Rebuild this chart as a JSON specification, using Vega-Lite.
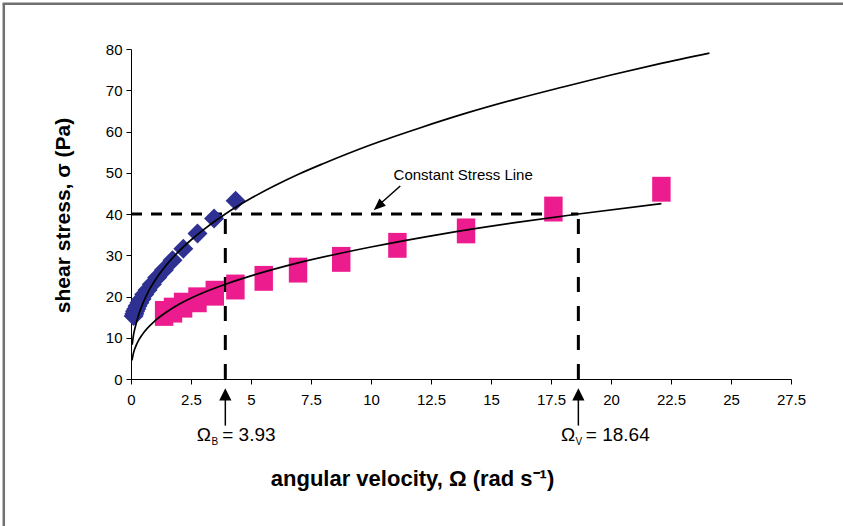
{
  "$schema": "https://vega.github.io/schema/vega-lite/v6.json",
  "width": 660,
  "height": 330,
  "autosize": {"type": "none"},
  "padding": {"left": 131, "top": 49, "right": 52, "bottom": 147},
  "background": "white",
  "config": {
    "view": {"stroke": null},
    "font": "Liberation Sans",
    "axis": {"grid": false, "domainColor": "black", "tickColor": "black", "labelColor": "black", "titleColor": "black", "labelFont": "Liberation Sans", "titleFont": "Liberation Sans"}
  },
  "data": {"values": [{}]},
  "datasets": {
    "blue": [
      {"omega": 0.11, "sigma": 15.3}, {"omega": 0.14, "sigma": 15.8}, {"omega": 0.17, "sigma": 16.4},
      {"omega": 0.22, "sigma": 17.0}, {"omega": 0.27, "sigma": 17.7}, {"omega": 0.35, "sigma": 18.5},
      {"omega": 0.44, "sigma": 19.4}, {"omega": 0.55, "sigma": 20.5}, {"omega": 0.69, "sigma": 21.6},
      {"omega": 0.87, "sigma": 23.0}, {"omega": 1.09, "sigma": 24.6}, {"omega": 1.37, "sigma": 26.4},
      {"omega": 1.73, "sigma": 28.8}, {"omega": 2.18, "sigma": 31.6}, {"omega": 2.77, "sigma": 35.3},
      {"omega": 3.46, "sigma": 38.9}, {"omega": 4.36, "sigma": 43.2}
    ],
    "pink": [
      {"omega": 1.38, "sigma": 15.9}, {"omega": 1.75, "sigma": 16.7}, {"omega": 2.17, "sigma": 17.9},
      {"omega": 2.77, "sigma": 19.2}, {"omega": 3.49, "sigma": 20.8}, {"omega": 4.35, "sigma": 22.3},
      {"omega": 5.53, "sigma": 24.4}, {"omega": 6.96, "sigma": 26.4}, {"omega": 8.76, "sigma": 29.0},
      {"omega": 11.1, "sigma": 32.4}, {"omega": 13.96, "sigma": 35.9}, {"omega": 17.6, "sigma": 41.2},
      {"omega": 22.1, "sigma": 46.0}
    ],
    "fits": [
      {"curve": "B", "omega": 0.05, "sigma": 8.3}, {"curve": "B", "omega": 0.1, "sigma": 10.5},
      {"curve": "B", "omega": 0.2, "sigma": 13.1}, {"curve": "B", "omega": 0.35, "sigma": 16.1},
      {"curve": "B", "omega": 0.5, "sigma": 18.4}, {"curve": "B", "omega": 0.75, "sigma": 21.5},
      {"curve": "B", "omega": 1, "sigma": 23.9}, {"curve": "B", "omega": 1.5, "sigma": 27.8},
      {"curve": "B", "omega": 2, "sigma": 31.0}, {"curve": "B", "omega": 2.5, "sigma": 33.7},
      {"curve": "B", "omega": 3, "sigma": 36.1}, {"curve": "B", "omega": 3.93, "sigma": 40.0},
      {"curve": "B", "omega": 5, "sigma": 43.8}, {"curve": "B", "omega": 6, "sigma": 46.9},
      {"curve": "B", "omega": 7, "sigma": 49.7}, {"curve": "B", "omega": 8, "sigma": 52.2},
      {"curve": "B", "omega": 10, "sigma": 56.8}, {"curve": "B", "omega": 12, "sigma": 60.8},
      {"curve": "B", "omega": 14, "sigma": 64.5}, {"curve": "B", "omega": 16, "sigma": 67.8},
      {"curve": "B", "omega": 18, "sigma": 70.8}, {"curve": "B", "omega": 20, "sigma": 73.7},
      {"curve": "B", "omega": 22, "sigma": 76.4}, {"curve": "B", "omega": 24.1, "sigma": 79.0},
      {"curve": "V", "omega": 0.04, "sigma": 4.5}, {"curve": "V", "omega": 0.1, "sigma": 6.2},
      {"curve": "V", "omega": 0.25, "sigma": 8.6}, {"curve": "V", "omega": 0.5, "sigma": 11.0},
      {"curve": "V", "omega": 1, "sigma": 14.1}, {"curve": "V", "omega": 1.5, "sigma": 16.3},
      {"curve": "V", "omega": 2, "sigma": 18.1}, {"curve": "V", "omega": 3, "sigma": 20.9},
      {"curve": "V", "omega": 4, "sigma": 23.1}, {"curve": "V", "omega": 5, "sigma": 25.0},
      {"curve": "V", "omega": 7, "sigma": 28.2}, {"curve": "V", "omega": 10, "sigma": 32.0},
      {"curve": "V", "omega": 13, "sigma": 35.2}, {"curve": "V", "omega": 16, "sigma": 37.9},
      {"curve": "V", "omega": 18.64, "sigma": 40.0}, {"curve": "V", "omega": 22.1, "sigma": 42.5}
    ],
    "marks": [{"omega": 3.93}, {"omega": 18.64}]
  },
  "layer": [
    {
      "mark": {"type": "rule", "stroke": "#707070", "strokeWidth": 2.5},
      "encoding": {
        "x": {"datum": -5.3, "type": "quantitative", "scale": {"domain": [0, 27.5], "nice": false, "zero": false},
          "title": "angular velocity, Ω (rad s⁻¹)",
          "axis": {"values": [0, 2.5, 5, 7.5, 10, 12.5, 15, 17.5, 20, 22.5, 25, 27.5], "format": ".4~g", "tickSize": 5, "labelFontSize": 15, "labelPadding": 8, "labelOverlap": false, "labelFlush": false,
            "titleFontSize": 22, "titleFontWeight": "bold", "titleX": 281, "titleY": 99, "titleBaseline": "middle", "titleAlign": "center"}},
        "y": {"datum": 91, "type": "quantitative", "scale": {"domain": [0, 80], "nice": false, "zero": false},
          "title": "shear stress, σ (Pa)",
          "axis": {"values": [0, 10, 20, 30, 40, 50, 60, 70, 80], "tickSize": 5, "labelFontSize": 15, "labelPadding": 4,
            "titleFontSize": 21, "titleFontWeight": "bold", "titleX": -68, "titleY": 166, "titleBaseline": "middle", "titleAlign": "center"}},
        "y2": {"datum": -40}
      }
    },
    {
      "mark": {"type": "rule", "stroke": "#707070", "strokeWidth": 2.5},
      "encoding": {
        "x": {"datum": -5.35, "type": "quantitative", "title": "angular velocity, Ω (rad s⁻¹)"},
        "x2": {"datum": 33},
        "y": {"datum": 91, "type": "quantitative", "title": "shear stress, σ (Pa)"}
      }
    },
    {
      "mark": {"type": "rule", "color": "black", "strokeWidth": 3, "strokeDash": [11, 9]},
      "encoding": {
        "x": {"datum": 0, "type": "quantitative", "title": "angular velocity, Ω (rad s⁻¹)"},
        "x2": {"datum": 18.64},
        "y": {"datum": 40, "type": "quantitative", "title": "shear stress, σ (Pa)"}
      }
    },
    {
      "data": {"name": "marks"},
      "mark": {"type": "rule", "color": "black", "strokeWidth": 3, "strokeDash": [15, 14]},
      "encoding": {
        "x": {"field": "omega", "type": "quantitative", "title": "angular velocity, Ω (rad s⁻¹)"},
        "y": {"datum": 0, "type": "quantitative", "title": "shear stress, σ (Pa)"},
        "y2": {"datum": 40}
      }
    },
    {
      "data": {"name": "blue"},
      "mark": {"type": "point", "shape": "diamond", "filled": true, "color": "#2E3192", "size": 400, "opacity": 1},
      "encoding": {
        "x": {"field": "omega", "type": "quantitative", "title": "angular velocity, Ω (rad s⁻¹)"},
        "y": {"field": "sigma", "type": "quantitative", "title": "shear stress, σ (Pa)"}
      }
    },
    {
      "data": {"name": "pink"},
      "mark": {"type": "point", "shape": "M-1,-1.35L1,-1.35L1,1.35L-1,1.35Z", "filled": true, "color": "#EC1C8E", "size": 340, "opacity": 1},
      "encoding": {
        "x": {"field": "omega", "type": "quantitative", "title": "angular velocity, Ω (rad s⁻¹)"},
        "y": {"field": "sigma", "type": "quantitative", "title": "shear stress, σ (Pa)"}
      }
    },
    {
      "data": {"name": "fits"},
      "mark": {"type": "line", "color": "black", "strokeWidth": 1.7, "interpolate": "monotone"},
      "encoding": {
        "x": {"field": "omega", "type": "quantitative", "title": "angular velocity, Ω (rad s⁻¹)"},
        "y": {"field": "sigma", "type": "quantitative", "title": "shear stress, σ (Pa)"},
        "detail": {"field": "curve"}
      }
    },
    {
      "data": {"name": "marks"},
      "mark": {"type": "rule", "color": "black", "strokeWidth": 1.5},
      "encoding": {
        "x": {"field": "omega", "type": "quantitative", "title": "angular velocity, Ω (rad s⁻¹)"},
        "y": {"datum": -5, "type": "quantitative", "title": "shear stress, σ (Pa)"},
        "y2": {"datum": -11.3}
      }
    },
    {
      "data": {"name": "marks"},
      "mark": {"type": "point", "shape": "M0,-1L-1,1L1,1Z", "filled": true, "color": "black", "size": 150, "opacity": 1},
      "encoding": {
        "x": {"field": "omega", "type": "quantitative", "title": "angular velocity, Ω (rad s⁻¹)"},
        "y": {"datum": -3.7, "type": "quantitative", "title": "shear stress, σ (Pa)"}
      }
    },
    {
      "mark": {"type": "rule", "color": "black", "strokeWidth": 1.5},
      "encoding": {
        "x": {"datum": 11.22, "type": "quantitative", "title": "angular velocity, Ω (rad s⁻¹)"},
        "x2": {"datum": 10.35},
        "y": {"datum": 46.8, "type": "quantitative", "title": "shear stress, σ (Pa)"},
        "y2": {"datum": 42.3}
      }
    },
    {
      "mark": {"type": "point", "shape": "M0,-1L-0.8,1L0.8,1Z", "filled": true, "color": "black", "size": 144, "opacity": 1, "angle": 228},
      "encoding": {
        "x": {"datum": 10.3, "type": "quantitative", "title": "angular velocity, Ω (rad s⁻¹)"},
        "y": {"datum": 41.9, "type": "quantitative", "title": "shear stress, σ (Pa)"}
      }
    },
    {
      "mark": {"type": "text", "text": "Constant Stress Line", "fontSize": 15, "align": "left", "baseline": "alphabetic", "color": "black"},
      "encoding": {
        "x": {"datum": 10.94, "type": "quantitative", "title": "angular velocity, Ω (rad s⁻¹)"},
        "y": {"datum": 48.2, "type": "quantitative", "title": "shear stress, σ (Pa)"}
      }
    },
    {
      "mark": {"type": "text", "text": "Ω", "fontSize": 19, "align": "left", "baseline": "alphabetic", "color": "black"},
      "encoding": {
        "x": {"datum": 2.74, "type": "quantitative", "title": "angular velocity, Ω (rad s⁻¹)"},
        "y": {"datum": -15.1, "type": "quantitative", "title": "shear stress, σ (Pa)"}
      }
    },
    {
      "mark": {"type": "text", "text": "B", "fontSize": 10, "align": "left", "baseline": "alphabetic", "color": "black"},
      "encoding": {
        "x": {"datum": 3.35, "type": "quantitative", "title": "angular velocity, Ω (rad s⁻¹)"},
        "y": {"datum": -16.1, "type": "quantitative", "title": "shear stress, σ (Pa)"}
      }
    },
    {
      "mark": {"type": "text", "text": "= 3.93", "fontSize": 19, "align": "left", "baseline": "alphabetic", "color": "black"},
      "encoding": {
        "x": {"datum": 3.8, "type": "quantitative", "title": "angular velocity, Ω (rad s⁻¹)"},
        "y": {"datum": -15.1, "type": "quantitative", "title": "shear stress, σ (Pa)"}
      }
    },
    {
      "mark": {"type": "text", "text": "Ω", "fontSize": 19, "align": "left", "baseline": "alphabetic", "color": "black"},
      "encoding": {
        "x": {"datum": 17.92, "type": "quantitative", "title": "angular velocity, Ω (rad s⁻¹)"},
        "y": {"datum": -15.1, "type": "quantitative", "title": "shear stress, σ (Pa)"}
      }
    },
    {
      "mark": {"type": "text", "text": "V", "fontSize": 10, "align": "left", "baseline": "alphabetic", "color": "black"},
      "encoding": {
        "x": {"datum": 18.52, "type": "quantitative", "title": "angular velocity, Ω (rad s⁻¹)"},
        "y": {"datum": -16.1, "type": "quantitative", "title": "shear stress, σ (Pa)"}
      }
    },
    {
      "mark": {"type": "text", "text": "= 18.64", "fontSize": 19, "align": "left", "baseline": "alphabetic", "color": "black"},
      "encoding": {
        "x": {"datum": 18.95, "type": "quantitative", "title": "angular velocity, Ω (rad s⁻¹)"},
        "y": {"datum": -15.1, "type": "quantitative", "title": "shear stress, σ (Pa)"}
      }
    }
  ]
}
